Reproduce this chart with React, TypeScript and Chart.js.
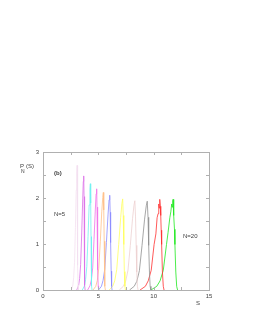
import React, { useEffect, useRef } from "react";
import { Chart, registerables } from "chart.js";

Chart.register(...registerables);

const xTicks = [0, 5, 10, 15];
const yTicks = [0, 1, 2, 3];

const s1X = [2.56, 2.70, 2.77, 2.85, 2.93, 3.00, 3.05, 3.08, 3.10, 3.12, 3.15, 3.17, 3.19];
const s1Y = [0, 0.11, 0.27, 0.60, 1.36, 2.17, 2.57, 2.71, 2.22, 1.36, 0.54, 0.11, 0];
const s2X = [3.05, 3.22, 3.31, 3.40, 3.50, 3.59, 3.64, 3.68, 3.71, 3.73, 3.76, 3.78, 3.81];
const s2Y = [0, 0.10, 0.25, 0.55, 1.24, 1.98, 2.36, 2.48, 2.03, 1.24, 0.50, 0.10, 0];
const s3X = [3.55, 3.75, 3.85, 3.96, 4.07, 4.17, 4.24, 4.28, 4.31, 4.34, 4.37, 4.40, 4.43];
const s3Y = [0, 0.09, 0.23, 0.51, 1.16, 1.85, 2.19, 2.31, 1.89, 1.16, 0.46, 0.09, 0];
const s4X = [4.03, 4.24, 4.37, 4.49, 4.61, 4.73, 4.80, 4.85, 4.88, 4.92, 4.95, 4.99, 5.02];
const s4Y = [0, 0.09, 0.22, 0.48, 1.10, 1.76, 2.09, 2.20, 1.80, 1.10, 0.44, 0.09, 0];
const s5X = [4.52, 4.77, 4.91, 5.04, 5.18, 5.31, 5.40, 5.45, 5.49, 5.53, 5.56, 5.60, 5.64];
const s5Y = [0, 0.08, 0.21, 0.47, 1.06, 1.70, 2.01, 2.12, 1.74, 1.06, 0.42, 0.08, 0];
const s6X = [5.01, 5.28, 5.43, 5.58, 5.73, 5.88, 5.97, 6.03, 6.07, 6.11, 6.16, 6.20, 6.24];
const s6Y = [0, 0.08, 0.21, 0.45, 1.03, 1.65, 1.96, 2.06, 1.69, 1.03, 0.41, 0.08, 0];
const s7X = [5.98, 6.30, 6.48, 6.66, 6.84, 7.02, 7.13, 7.20, 7.25, 7.30, 7.35, 7.40, 7.45];
const s7Y = [0, 0.08, 0.20, 0.44, 0.99, 1.58, 1.88, 1.98, 1.62, 0.99, 0.40, 0.08, 0];
const s8X = [6.89, 7.26, 7.47, 7.68, 7.89, 8.09, 8.22, 8.30, 8.36, 8.42, 8.47, 8.53, 8.59];
const s8Y = [0, 0.08, 0.19, 0.43, 0.97, 1.55, 1.84, 1.94, 1.59, 0.97, 0.39, 0.08, 0];
const s9X = [7.82, 8.24, 8.48, 8.71, 8.95, 9.18, 9.33, 9.42, 9.49, 9.55, 9.62, 9.68, 9.75];
const s9Y = [0, 0.08, 0.19, 0.42, 0.97, 1.54, 1.83, 1.93, 1.58, 0.97, 0.39, 0.08, 0];
const s10X = [8.77, 9.25, 9.51, 9.78, 10.04, 10.20, 10.31, 10.40, 10.46, 10.50, 10.53, 10.57, 10.60, 10.64, 10.68, 10.72, 10.79, 10.87, 10.94];
const s10Y = [0, 0.08, 0.20, 0.43, 0.99, 1.22, 1.57, 1.66, 1.87, 1.78, 1.93, 1.97, 1.82, 1.62, 1.30, 0.99, 0.39, 0.08, 0];
const s11X = [9.75, 10.28, 10.58, 10.87, 11.16, 11.30, 11.46, 11.55, 11.63, 11.68, 11.72, 11.75, 11.79, 11.83, 11.88, 11.92, 12.00, 12.08, 12.16];
const s11Y = [0, 0.08, 0.20, 0.43, 0.99, 1.25, 1.57, 1.70, 1.87, 1.80, 1.94, 1.97, 1.85, 1.62, 1.32, 0.99, 0.39, 0.08, 0];

const seriesX = [s1X, s2X, s3X, s4X, s5X, s6X, s7X, s8X, s9X, s10X, s11X];
const seriesY = [s1Y, s2Y, s3Y, s4Y, s5Y, s6Y, s7Y, s8Y, s9Y, s10Y, s11Y];
const seriesColors = [
  "#f4e0f0", "#dc70e8", "#70f0f0", "#f070e8", "#ffc088", "#8c8cff",
  "#ffff60", "#eed0d0", "#909090", "#ff3030", "#20e820",
];

const AXIS_COLOR = "#b0b0b0";
const TEXT_COLOR = "#404040";
const FONT = '"Liberation Sans", Arial, sans-serif';

const decorPlugin = {
  id: "decor",
  afterDraw(chart: any) {
    const { ctx, chartArea: a, scales } = chart;
    ctx.save();
    ctx.strokeStyle = AXIS_COLOR;
    ctx.lineWidth = 1;
    ctx.strokeRect(Math.round(a.left) + 0.5, Math.round(a.top) + 0.5, Math.round(a.right - a.left), Math.round(a.bottom - a.top));
    ctx.beginPath();
    const tl = 3;
    scales.x.ticks.forEach((t: any) => {
      const px = Math.round(scales.x.getPixelForValue(t.value)) + 0.5;
      ctx.moveTo(px, a.bottom);
      ctx.lineTo(px, a.bottom - tl);
      ctx.moveTo(px, a.top);
      ctx.lineTo(px, a.top + tl);
    });
    scales.y.ticks.forEach((t: any) => {
      const py = Math.round(scales.y.getPixelForValue(t.value)) + 0.5;
      ctx.moveTo(a.left, py);
      ctx.lineTo(a.left + tl, py);
      ctx.moveTo(a.right, py);
      ctx.lineTo(a.right - tl, py);
    });
    ctx.stroke();

    ctx.fillStyle = TEXT_COLOR;
    ctx.textBaseline = "middle";
    ctx.textAlign = "left";
    ctx.font = `bold 6px ${FONT}`;
    ctx.fillText("(b)", 54, 173);
    ctx.font = `6px ${FONT}`;
    ctx.fillText("N=5", 54, 214);
    ctx.fillText("N=20", 183, 236);
    ctx.fillText("S", 196, 303);
    ctx.fillText("P", 20, 166);
    ctx.fillText("(S)", 26, 166);
    ctx.font = `5px ${FONT}`;
    ctx.fillText("N", 21, 172);
    ctx.restore();
  },
};

export default function App() {
  const ref = useRef<HTMLCanvasElement | null>(null);
  useEffect(() => {
    if (!ref.current) return;
    const datasets = seriesX.map((xs, i) => ({
      data: xs.map((x, j) => ({ x, y: seriesY[i][j] })),
      borderColor: seriesColors[i],
      backgroundColor: seriesColors[i],
      borderWidth: 0.8,
      pointRadius: 0,
      tension: 0,
      fill: false,
    }));
    const chart = new Chart(ref.current, {
      type: "line",
      data: { datasets },
      options: {
        animation: false,
        responsive: false,
        maintainAspectRatio: false,
        layout: { padding: { top: 152, right: 44, left: 0, bottom: 0 } },
        plugins: { legend: { display: false }, tooltip: { enabled: false } },
        scales: {
          x: {
            type: "linear",
            min: 0,
            max: 15,
            grid: { display: false, drawTicks: false },
            border: { display: false },
            ticks: {
              stepSize: 2.5,
              autoSkip: false,
              maxRotation: 0,
              padding: 3,
              color: TEXT_COLOR,
              font: { size: 6, family: FONT },
              callback: (v: any) => (xTicks.includes(Number(v)) ? String(v) : ""),
            },
            afterFit: (s: any) => { s.height = 37; },
          },
          y: {
            type: "linear",
            min: 0,
            max: 3,
            grid: { display: false, drawTicks: false },
            border: { display: false },
            ticks: {
              stepSize: 0.5,
              autoSkip: false,
              padding: 4,
              color: TEXT_COLOR,
              font: { size: 6, family: FONT },
              callback: (v: any) => (yTicks.includes(Number(v)) ? String(v) : ""),
            },
            afterFit: (s: any) => { s.width = 43; },
          },
        },
      },
      plugins: [decorPlugin],
    });
    return () => chart.destroy();
  }, []);
  return (
    <div style={{ position: "fixed", left: 0, top: 0, width: 253, height: 327, background: "#fff" }}>
      <canvas ref={ref} width={253} height={327} style={{ width: 253, height: 327, display: "block" }} />
    </div>
  );
}
